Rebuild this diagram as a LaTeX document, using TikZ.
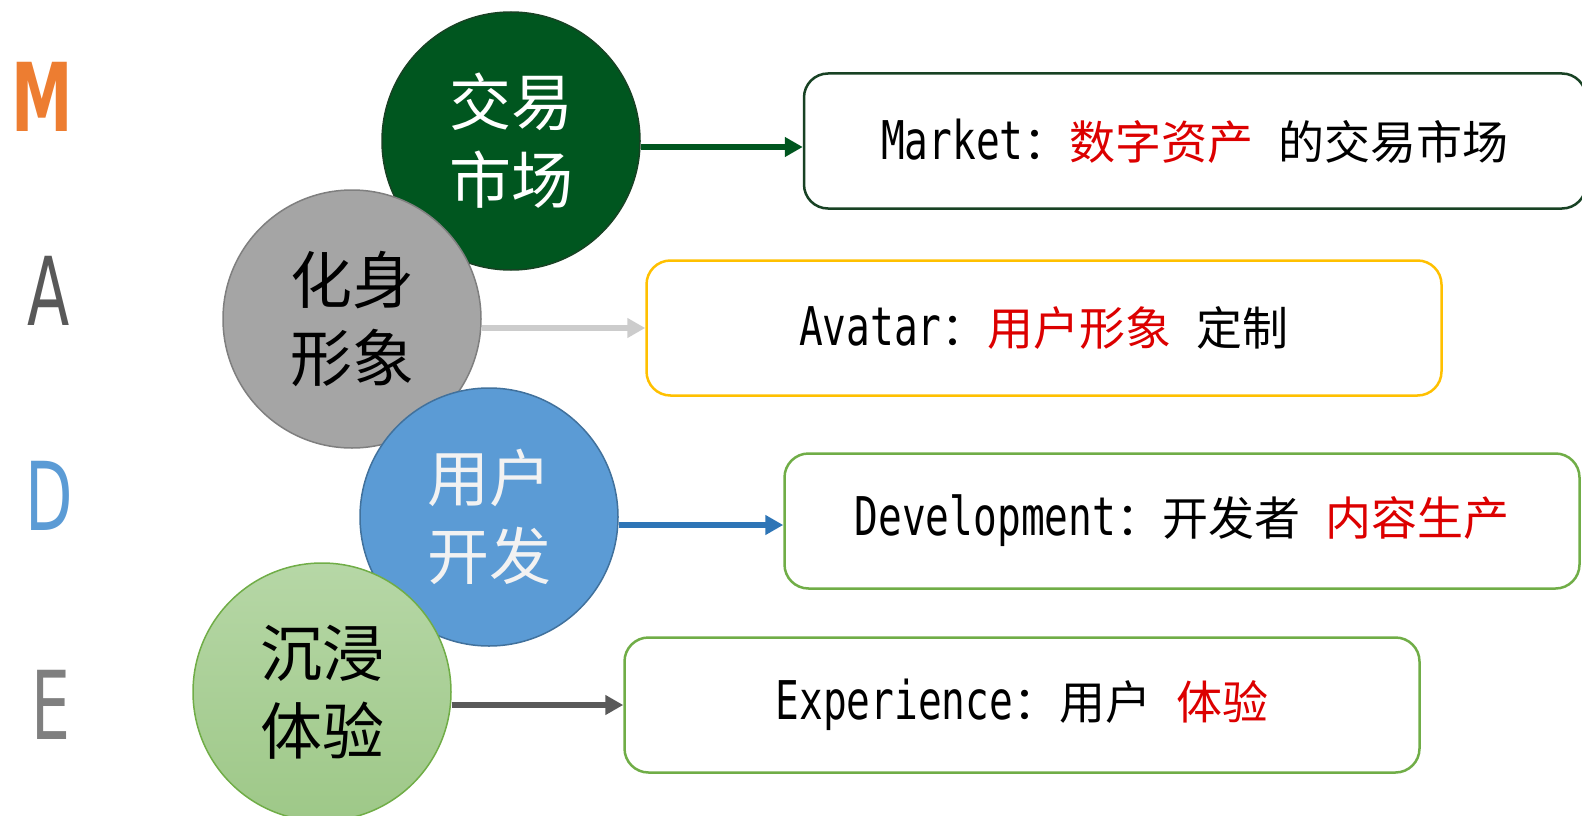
\documentclass[tikz,border=0pt]{standalone}
\usepackage{fontspec}
\setmainfont{Noto Sans CJK SC}
\newfontfamily\latinf{DejaVu Sans Mono}[FakeStretch=0.74,Scale=1.16]
\newfontfamily\madef{DejaVu Sans}[FakeStretch=0.65]
\usetikzlibrary{arrows.meta}
\definecolor{mktgreen}{RGB}{0,86,31}
\definecolor{mktedge}{RGB}{24,66,36}
\definecolor{avagray}{RGB}{165,165,165}
\definecolor{avaedge}{RGB}{127,127,127}
\definecolor{avaarrow}{RGB}{204,204,204}
\definecolor{gold}{RGB}{255,192,0}
\definecolor{devblue}{RGB}{91,155,213}
\definecolor{devedge}{RGB}{65,113,156}
\definecolor{devarrow}{RGB}{46,117,182}
\definecolor{expgreen}{RGB}{112,173,71}
\definecolor{exptop}{RGB}{182,215,166}
\definecolor{expbot}{RGB}{158,200,136}
\definecolor{exparrow}{RGB}{89,89,89}
\definecolor{mred}{RGB}{220,0,0}
\definecolor{morange}{RGB}{237,125,49}
\newcommand{\hl}[1]{\textcolor{mred}{#1}}
\newcommand{\gap}{\hspace{0.55em}}

\begin{document}
\begin{tikzpicture}[x=1pt,y=-1pt,
  ball/.style={circle,minimum size=258pt,inner sep=0pt,line width=1.5pt,align=center,font=\fontsize{62}{78}\selectfont},
  card/.style={draw,rounded corners=24pt,line width=2.5pt,minimum width=795pt,minimum height=135pt,font=\fontsize{46}{52}\selectfont},
  link/.style={line width=5.5pt,-{Triangle[length=18pt,width=19pt]}},
  letter/.style={inner sep=0pt,font=\fontsize{95}{95}\madef\selectfont}]
\useasboundingbox (0,0) rectangle (1582,816);
\node[letter,text=morange] (m) at (42,97) {\bfseries M};
\node[letter,text=exparrow] (a) at (49,291) {A};
\node[letter,text=devblue] (d) at (49,496) {D};
\node[letter,text=avaedge] (e) at (51,705) {E};
\node[ball,fill=mktgreen,draw=mktedge,text=white] (mkt) at (511,141) {交易\\市场};
\node[ball,fill=avagray,draw=avaedge] (ava) at (352,319) {化身\\形象};
\node[ball,fill=devblue,draw=devedge,text=white!95!black] (dev) at (489,517) {用户\\开发};
\node[ball,top color=exptop,bottom color=expbot,draw=expgreen] (exp) at (322,692) {沉浸\\体验};
\node[card,draw=mktedge,minimum width=782pt] (mktbox) at (1195,141) {{\latinf Market}：\hl{数字资产}\gap 的交易市场};
\node[card,draw=gold] (avabox) at (1044,328) {{\latinf Avatar}：\hl{用户形象}\gap 定制};
\node[card,draw=expgreen] (devbox) at (1182,521) {{\latinf Development}：开发者\gap\hl{内容生产}};
\node[card,draw=expgreen] (expbox) at (1022,705) {{\latinf Experience}：用户\gap\hl{体验}};
\draw[link,mktgreen] ([yshift=-6pt]mkt.east) -- ([yshift=-6pt]mktbox.west);
\draw[link,avaarrow] (ava.east |- avabox.west) -- (avabox.west);
\draw[link,devarrow] ([yshift=-4pt]dev.east |- devbox.west) -- ([yshift=-4pt]devbox.west);
\draw[link,exparrow] (exp.east |- expbox.west) -- (expbox.west);
\end{tikzpicture}
\end{document}
